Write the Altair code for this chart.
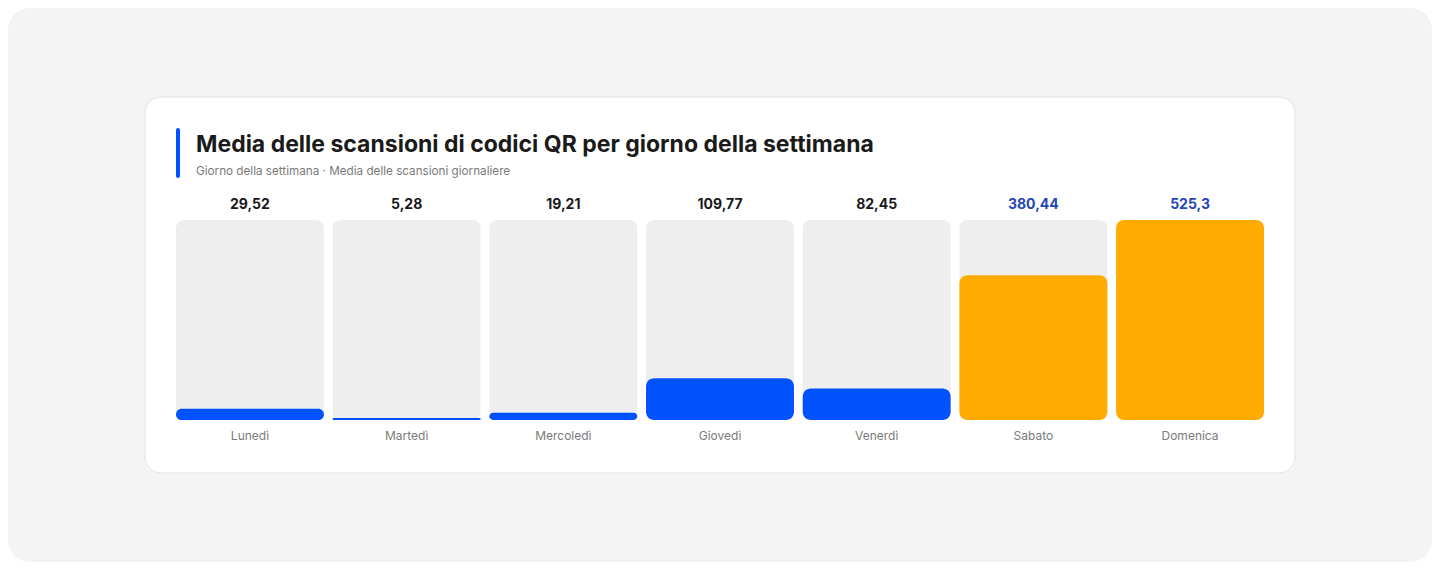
import altair as alt
import pandas as pd

# ---- data ----
days = ["Lunedì", "Martedì", "Mercoledì", "Giovedì", "Venerdì", "Sabato", "Domenica"]
values = [29.52, 5.28, 19.21, 109.77, 82.45, 380.44, 525.3]
groups = ["feriale", "feriale", "feriale", "feriale", "feriale", "weekend", "weekend"]

title_text = "Media delle scansioni di codici QR per giorno della settimana"
subtitle_text = "Giorno della settimana · Media delle scansioni giornaliere"

df = pd.DataFrame({"day": days, "value": values, "group": groups})
one = pd.DataFrame({"a": [0]})

# ---- layout ----
W, H = 1088, 200
PL, PT = 168, 212
TOTAL_W, TOTAL_H = 1424, 554
FONT = "Inter"

x_enc = alt.X(
    "day:N",
    sort=days,
    scale=alt.Scale(paddingInner=0.056, paddingOuter=0),
    axis=alt.Axis(
        title=None, domain=False, ticks=False, labelAngle=0,
        labelFont=FONT, labelFontSize=12, labelColor="#7a7a7a",
        labelPadding=10, zindex=1,
    ),
)
y_scale = alt.Scale(domain=[0, 525.3], nice=False, zero=True)

page_bg = alt.Chart(one).mark_rect(fill="#f4f4f4", cornerRadius=22).encode(
    x=alt.value(-PL), x2=alt.value(TOTAL_W - PL),
    y=alt.value(-PT), y2=alt.value(TOTAL_H - PT),
)
card = alt.Chart(one).mark_rect(fill="#ffffff", stroke="#e3e3e3", strokeWidth=1, cornerRadius=16).encode(
    x=alt.value(-31), x2=alt.value(1119),
    y=alt.value(-123), y2=alt.value(253),
)
accent = alt.Chart(one).mark_rect(fill="#0052ff", cornerRadius=2).encode(
    x=alt.value(0), x2=alt.value(4),
    y=alt.value(-92), y2=alt.value(-42),
)
title = alt.Chart(one).mark_text(
    text=title_text, font=FONT, fontSize=23, fontWeight="bold", color="#1a1a1a",
    align="left", baseline="alphabetic",
).encode(x=alt.value(20), y=alt.value(-68))
subtitle = alt.Chart(one).mark_text(
    text=subtitle_text, font=FONT, fontSize=11.7, color="#7a7a7a",
    align="left", baseline="alphabetic",
).encode(x=alt.value(20), y=alt.value(-45))

base = alt.Chart(df)

bg_bars = base.transform_joinaggregate(mx="max(value)").mark_bar(
    color="#eeeeee", cornerRadius=8
).encode(
    x=x_enc,
    y=alt.Y("mx:Q", scale=y_scale, axis=None),
    y2=alt.datum(0),
)
bars = base.mark_bar(cornerRadius=8).encode(
    x=x_enc,
    y=alt.Y("value:Q", scale=y_scale, axis=None),
    y2=alt.datum(0),
    color=alt.Color("group:N", scale=alt.Scale(domain=["feriale", "weekend"], range=["#0052ff", "#ffab00"]), legend=None),
)
labels = base.transform_calculate(
    lab="replace(toString(datum.value), '.', ',')"
).mark_text(font=FONT, fontSize=14, fontWeight="bold", baseline="alphabetic").encode(
    x=x_enc,
    y=alt.value(-11),
    text="lab:N",
    color=alt.Color("group:N", scale=alt.Scale(domain=["feriale", "weekend"], range=["#1a1a1a", "#2447b5"]), legend=None),
)

chart = alt.layer(page_bg, card, accent, title, subtitle, bg_bars, bars, labels).resolve_scale(
    color="independent"
).properties(
    width=W, height=H,
    autosize=alt.AutoSizeParams(type="none"),
    padding={"left": PL, "top": PT, "right": TOTAL_W - PL - W, "bottom": TOTAL_H - PT - H},
    background="#ffffff",
).configure_view(stroke=None)

chart.save("out.html", embed_options={"renderer": "svg", "actions": False})
